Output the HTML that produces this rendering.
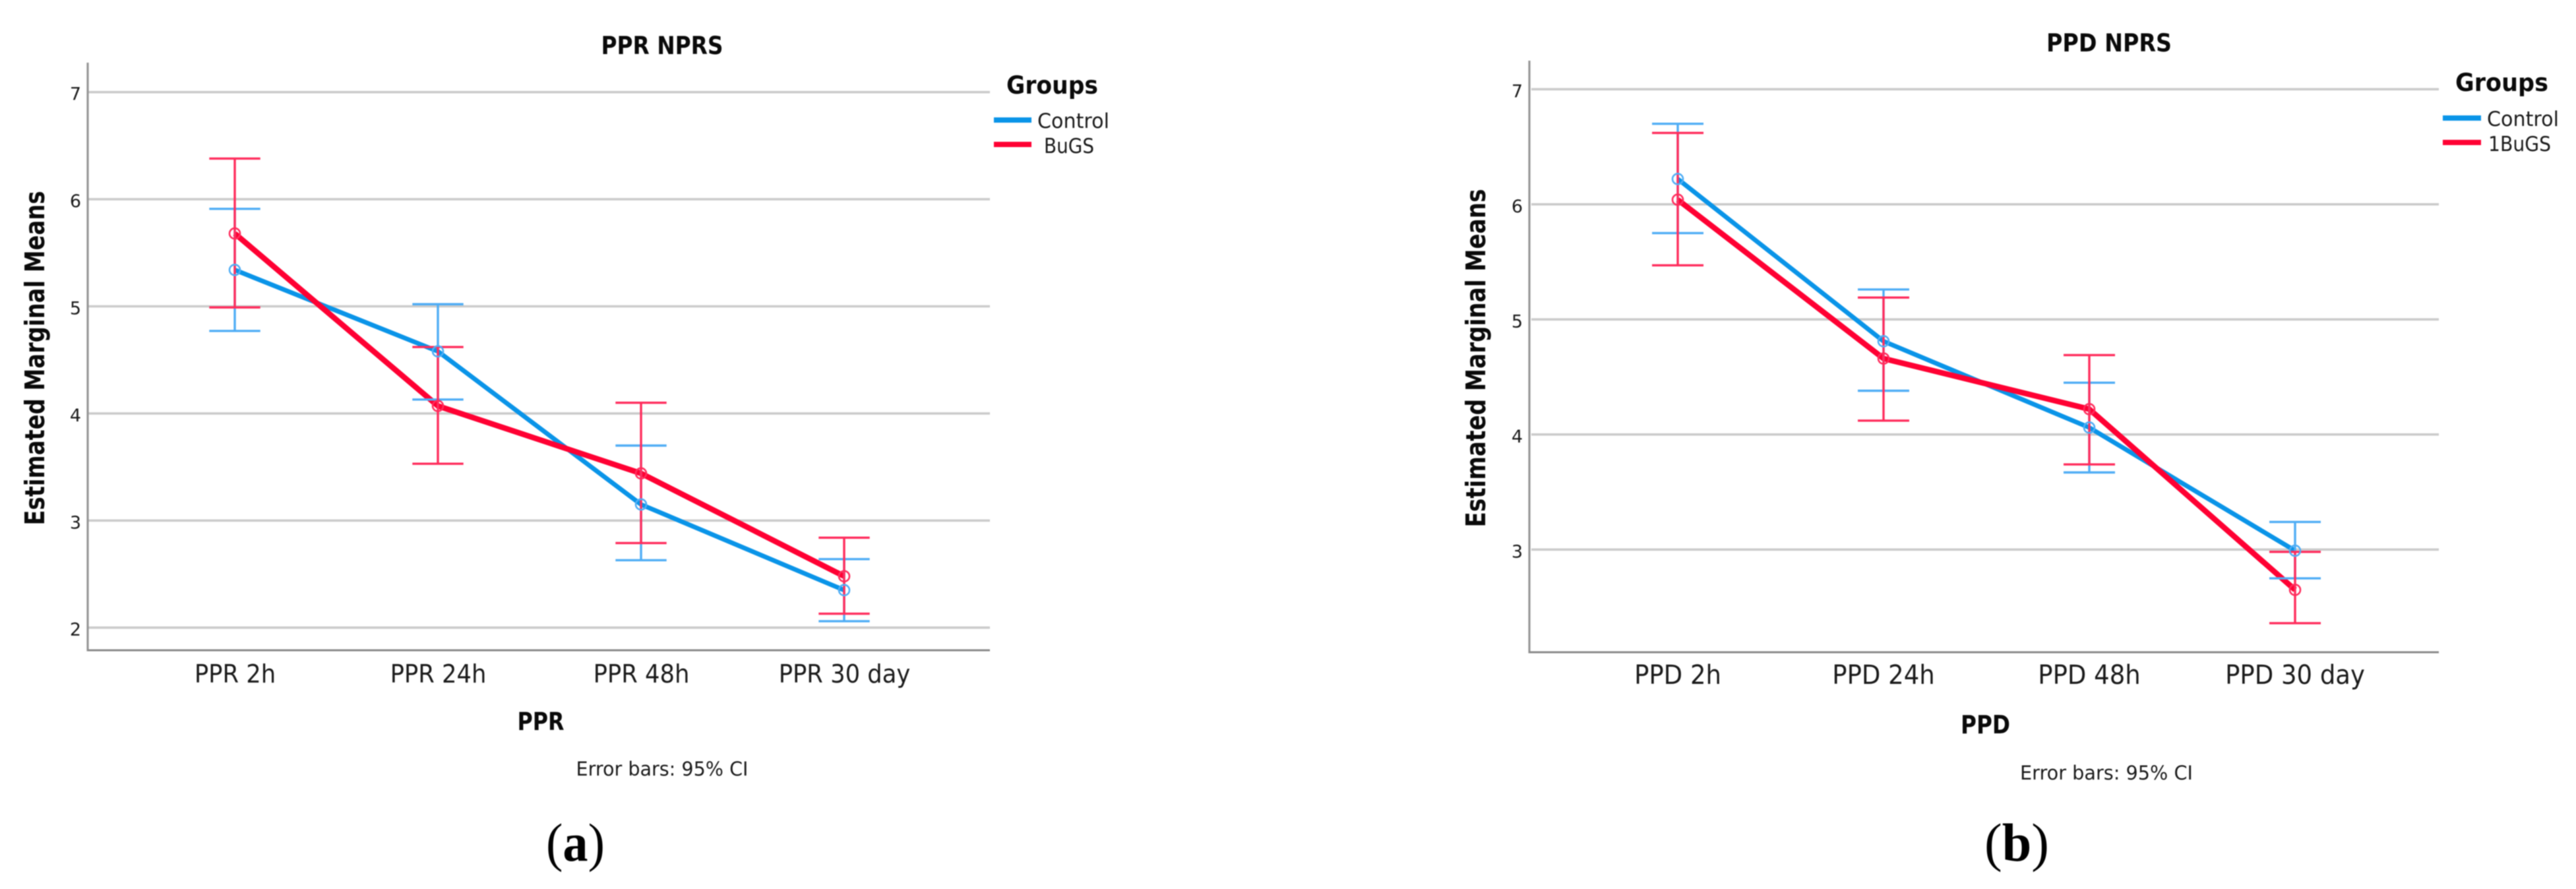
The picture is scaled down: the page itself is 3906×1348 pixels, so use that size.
<!DOCTYPE html>
<html lang="en">
<head>
<meta charset="utf-8">
<title>PPR NPRS and PPD NPRS estimated marginal means</title>
<style>
  html, body { margin: 0; padding: 0; background: #fff; width: 3906px; height: 1348px; overflow: hidden; }
  svg { display: block; filter: blur(0.8px); }
  text { font-family: "DejaVu Sans", "Liberation Sans", sans-serif; fill: #1a1a1a; }
  .bold { font-weight: 700; fill: #0a0a0a; }
  .panel-label { font-family: "Liberation Serif", serif; fill: #000; font-size: 82px; }
</style>
</head>
<body>
<svg id="figure" xmlns="http://www.w3.org/2000/svg" width="3906" height="1348" viewBox="0 0 3906 1348">
  <rect x="0" y="0" width="3906" height="1348" fill="#fff"/>

  <g id="panel-a">
    <text class="bold" x="1004" y="82" font-size="37" text-anchor="middle" textLength="185" lengthAdjust="spacingAndGlyphs">PPR NPRS</text>
    <text class="bold" transform="translate(67 543) rotate(-90)" x="0" y="0" font-size="41" text-anchor="middle" textLength="507" lengthAdjust="spacingAndGlyphs">Estimated Marginal Means</text>
    <text class="bold" x="820" y="1107" font-size="37" text-anchor="middle" textLength="71" lengthAdjust="spacingAndGlyphs">PPR</text>
    <text x="1004" y="1176" font-size="29" text-anchor="middle" textLength="261" lengthAdjust="spacingAndGlyphs">Error bars: 95% CI</text>
    <text class="bold" x="1526" y="142" font-size="37" textLength="139" lengthAdjust="spacingAndGlyphs">Groups</text>
    <rect x="1507" y="178" width="57" height="8" fill="#0a94e8"/>
    <rect x="1507" y="215" width="57" height="8" fill="#ff0033"/>
    <text x="1573" y="194" font-size="31" textLength="109" lengthAdjust="spacingAndGlyphs">Control</text>
    <text x="1583" y="232" font-size="31" textLength="76" lengthAdjust="spacingAndGlyphs">BuGS</text>
    <text class="panel-label" x="872.5" y="1305" text-anchor="middle" textLength="89" lengthAdjust="spacingAndGlyphs">(<tspan font-weight="700">a</tspan>)</text>
  </g>

  <g id="panel-b">
    <text class="bold" x="3198" y="78" font-size="37" text-anchor="middle" textLength="190" lengthAdjust="spacingAndGlyphs">PPD NPRS</text>
    <text class="bold" transform="translate(2252 543) rotate(-90)" x="0" y="0" font-size="41" text-anchor="middle" textLength="513" lengthAdjust="spacingAndGlyphs">Estimated Marginal Means</text>
    <text class="bold" x="3010.5" y="1112" font-size="38" text-anchor="middle" textLength="75" lengthAdjust="spacingAndGlyphs">PPD</text>
    <text x="3194" y="1182" font-size="29" text-anchor="middle" textLength="262" lengthAdjust="spacingAndGlyphs">Error bars: 95% CI</text>
    <text class="bold" x="3723" y="138" font-size="37" textLength="141" lengthAdjust="spacingAndGlyphs">Groups</text>
    <rect x="3704" y="175" width="58" height="8" fill="#0a94e8"/>
    <rect x="3704" y="212" width="58" height="8" fill="#ff0033"/>
    <text x="3771" y="191" font-size="31" textLength="109" lengthAdjust="spacingAndGlyphs">Control</text>
    <text x="3773" y="229" font-size="31" textLength="95" lengthAdjust="spacingAndGlyphs">1BuGS</text>
    <text class="panel-label" x="3058" y="1305" text-anchor="middle" textLength="98" lengthAdjust="spacingAndGlyphs">(<tspan font-weight="700">b</tspan>)</text>
  </g>
</svg>

<script>
// Panel (a) data
const categoriesA = ["PPR 2h", "PPR 24h", "PPR 48h", "PPR 30 day"];
const yTicksA = [2, 3, 4, 5, 6, 7];
const controlMeanA = [5.34, 4.58, 3.15, 2.35];
const controlUpperA = [5.91, 5.02, 3.70, 2.64];
const controlLowerA = [4.77, 4.13, 2.63, 2.06];
const bugsMeanA = [5.68, 4.07, 3.44, 2.48];
const bugsUpperA = [6.38, 4.62, 4.10, 2.84];
const bugsLowerA = [4.99, 3.53, 2.79, 2.13];

// Panel (b) data
const categoriesB = ["PPD 2h", "PPD 24h", "PPD 48h", "PPD 30 day"];
const yTicksB = [3, 4, 5, 6, 7];
const controlMeanB = [6.22, 4.81, 4.06, 2.99];
const controlUpperB = [6.70, 5.26, 4.45, 3.24];
const controlLowerB = [5.75, 4.38, 3.67, 2.75];
const bugsMeanB = [6.04, 4.66, 4.22, 2.65];
const bugsUpperB = [6.62, 5.19, 4.69, 2.98];
const bugsLowerB = [5.47, 4.12, 3.74, 2.36];

const NS = "http://www.w3.org/2000/svg";
const BLUE_LINE = "#0a94e8";
const RED_LINE = "#ff0033";
const BLUE_ERR = "#4fadf5";
const RED_ERR = "#ff2c5c";

function make(tag, attrs, parent) {
  const el = document.createElementNS(NS, tag);
  Object.keys(attrs).forEach(function (k) { el.setAttribute(k, attrs[k]); });
  parent.appendChild(el);
  return el;
}

function drawSeries(parent, slug, mean, sx, sy, lineColor, lineWidth) {
  const points = mean.map(function (v, i) { return sx(i) + "," + sy(v); }).join(" ");
  const line = make("polyline", { points: points, fill: "none", stroke: lineColor, "stroke-width": lineWidth, "stroke-linejoin": "round" }, parent);
  
  
}

function drawErrors(parent, slug, upper, lower, sx, sy, color, capHalf) {
  upper.forEach(function (u, i) {
    const x = sx(i);
    const stem = make("line", { x1: x, x2: x, y1: sy(u), y2: sy(lower[i]), stroke: color, "stroke-width": 3.4 }, parent);
    
    
    const capTop = make("line", { x1: x - capHalf, x2: x + capHalf, y1: sy(u), y2: sy(u), stroke: color, "stroke-width": 3.4 }, parent);
    
    
    const capBottom = make("line", { x1: x - capHalf, x2: x + capHalf, y1: sy(lower[i]), y2: sy(lower[i]), stroke: color, "stroke-width": 3.4 }, parent);
    
    
  });
}

function drawMarkers(parent, slug, mean, sx, sy, color) {
  mean.forEach(function (v, i) {
    const c = make("circle", { cx: sx(i), cy: sy(v), r: 8, fill: "none", stroke: color, "stroke-width": 2.6 }, parent);
    
    
  });
}

function drawPanel(opts) {
  const root = document.getElementById(opts.rootId);
  const g = document.createElementNS(NS, "g");
  
  
  root.insertBefore(g, root.firstChild);

  const sx = function (i) { return opts.x0 + opts.xStep * i; };
  const sy = function (v) { return opts.yRef - opts.yUnit * (v - opts.vRef); };

  opts.yTicks.forEach(function (t) {
    const grid = make("line", { x1: opts.gridLeft, x2: opts.right, y1: sy(t), y2: sy(t), stroke: "#cbcbcb", "stroke-width": 3.6 }, g);
    
    
    const label = make("text", { x: opts.tickX, y: sy(t) + 12, "font-size": 27, "text-anchor": "end" }, g);
    
    
    label.textContent = String(t);
  });

  const yAxis = make("line", { x1: opts.axisX, x2: opts.axisX, y1: opts.axisTop, y2: opts.axisBottom + 1.5, stroke: "#969696", "stroke-width": 3.2 }, g);
  
  
  const xAxis = make("line", { x1: opts.axisX, x2: opts.right, y1: opts.axisBottom, y2: opts.axisBottom, stroke: "#8a8a8a", "stroke-width": 3 }, g);
  
  

  opts.categories.forEach(function (c, i) {
    const label = make("text", { x: sx(i) + opts.labelShift, y: opts.xLabelY, "font-size": opts.xLabelSize, "text-anchor": "middle" }, g);
    
    
    label.textContent = c;
    label.setAttribute('textLength', label.getComputedTextLength() * opts.labelSqueeze);
    label.setAttribute('lengthAdjust', 'spacingAndGlyphs');
  });

  drawSeries(g, 'control', opts.controlMean, sx, sy, BLUE_LINE, 7);
  drawSeries(g, 'bugs', opts.bugsMean, sx, sy, RED_LINE, 8.5);
  drawErrors(g, 'control', opts.controlUpper, opts.controlLower, sx, sy, BLUE_ERR, opts.capHalf);
  drawErrors(g, 'bugs', opts.bugsUpper, opts.bugsLower, sx, sy, RED_ERR, opts.capHalf);
  drawMarkers(g, 'control', opts.controlMean, sx, sy, BLUE_ERR);
  drawMarkers(g, 'bugs', opts.bugsMean, sx, sy, RED_ERR);
}

drawPanel({
  rootId: "panel-a",
  categories: categoriesA, yTicks: yTicksA,
  controlMean: controlMeanA, controlUpper: controlUpperA, controlLower: controlLowerA,
  bugsMean: bugsMeanA, bugsUpper: bugsUpperA, bugsLower: bugsLowerA,
  x0: 356, xStep: 308, yRef: 951.7, yUnit: 162.4, vRef: 2,
  axisX: 133, gridLeft: 134, right: 1501, axisTop: 95, axisBottom: 986,
  tickX: 123, xLabelY: 1035, xLabelSize: 38, labelShift: 0.5, labelSqueeze: 0.93, capHalf: 38.7
});

drawPanel({
  rootId: "panel-b",
  categories: categoriesB, yTicks: yTicksB,
  controlMean: controlMeanB, controlUpper: controlUpperB, controlLower: controlLowerB,
  bugsMean: bugsMeanB, bugsUpper: bugsUpperB, bugsLower: bugsLowerB,
  x0: 2544, xStep: 312, yRef: 833.3, yUnit: 174.5, vRef: 3,
  axisX: 2319, gridLeft: 2322, right: 3698, axisTop: 92, axisBottom: 989,
  tickX: 2309, xLabelY: 1037, xLabelSize: 40, labelShift: 0, labelSqueeze: 0.925, capHalf: 39
});
</script>
</body>
</html>
